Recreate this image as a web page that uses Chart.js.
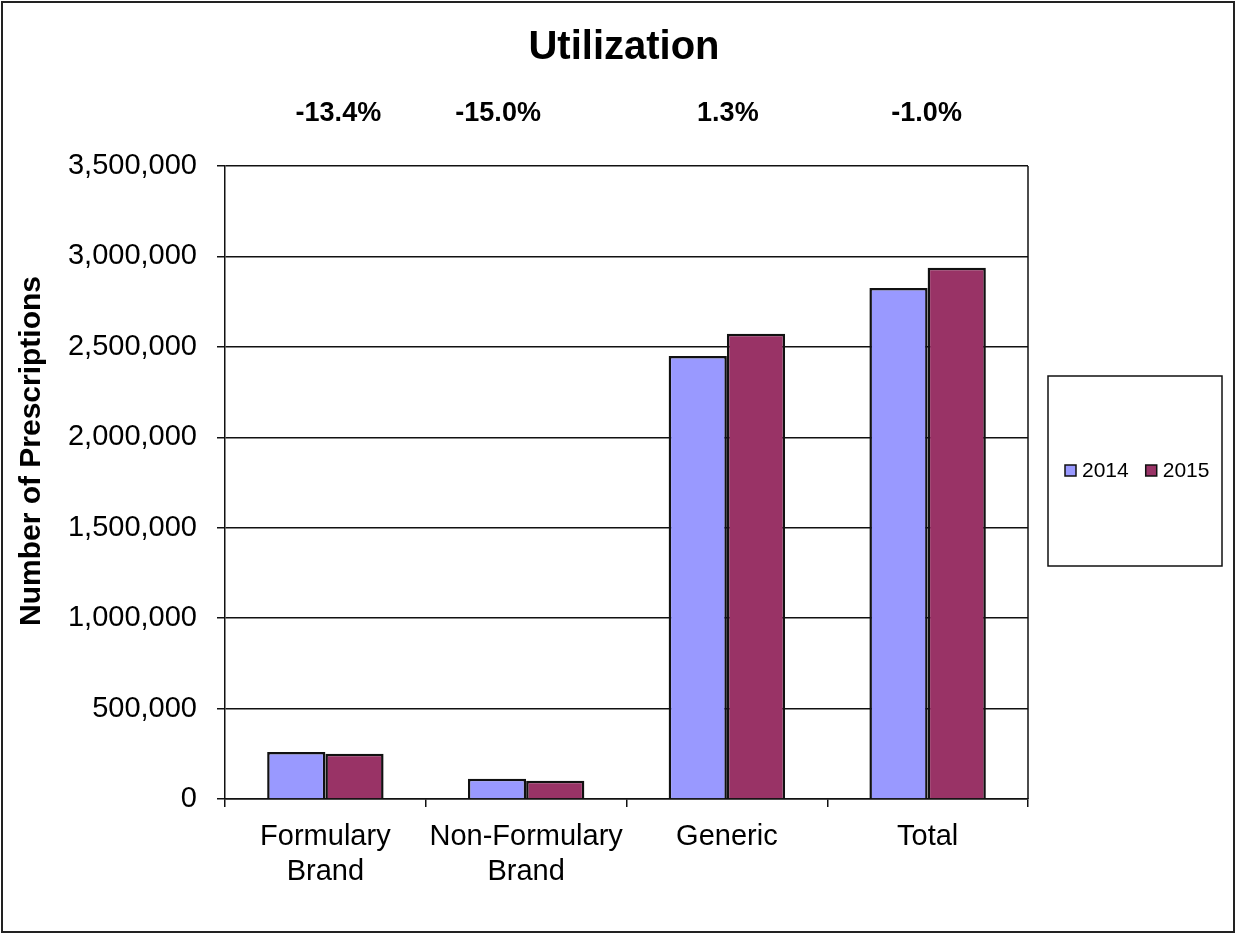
<!DOCTYPE html>
<html>
<head>
<meta charset="utf-8">
<script src="https://cdn.jsdelivr.net/npm/chart.js@4.4.1/dist/chart.umd.min.js"></script>
<style>
  html, body { margin: 0; padding: 0; background: #fff; }
  #wrap { width: 1236px; height: 934px; }
</style>
</head>
<body>
<div id="wrap"><canvas id="util" width="1236" height="934"></canvas></div>
<script>
// ---------- Data ----------
const categories = [["Formulary", "Brand"], ["Non-Formulary", "Brand"], "Generic", "Total"];
const years = ["2014", "2015"];
const rx2014 = [260000, 112000, 2450000, 2825000];
const rx2015 = [250000, 101000, 2573000, 2938000];
const changeLabels = ["-13.4%", "-15.0%", "1.3%", "-1.0%"];
const yTicks = [0, 500000, 1000000, 1500000, 2000000, 2500000, 3000000, 3500000];

// The % labels in the original don't sit exactly over their categories.
const changeNudge = [13, -28, 1, -1];

const COLORS = ["#9999FF", "#993366"];
const FONT = "'Liberation Sans', Arial, sans-serif";

// Frame, title, axis title, % change row, right plot border and the boxed legend.
const decorations = {
  id: "decorations",
  afterDraw(chart) {
    const { ctx, chartArea: a, scales: { x } } = chart;
    ctx.save();

    // outer frame
    ctx.strokeStyle = "#222"; ctx.lineWidth = 2;
    ctx.strokeRect(2, 2, 1232, 930);

    // right edge of the plot area
    ctx.strokeStyle = "#111"; ctx.lineWidth = 1.5;
    ctx.beginPath(); ctx.moveTo(a.right, a.top); ctx.lineTo(a.right, a.bottom); ctx.stroke();

    // title
    ctx.fillStyle = "#000"; ctx.textAlign = "center"; ctx.textBaseline = "middle";
    ctx.font = `bold 40px ${FONT}`;
    ctx.fillText("Utilization", 624, 48);

    // change labels over each category
    ctx.font = `bold 27px ${FONT}`;
    changeLabels.forEach((t, i) => ctx.fillText(t, x.getPixelForValue(i) + changeNudge[i], 114));

    // y axis title (sits above the plot's middle in the original)
    ctx.save();
    ctx.translate(32, 451); ctx.rotate(-Math.PI / 2);
    ctx.font = `bold 30px ${FONT}`;
    ctx.fillText("Number of Prescriptions", 0, 0);
    ctx.restore();

    // legend box
    ctx.strokeStyle = "#111"; ctx.lineWidth = 1.5;
    ctx.strokeRect(1048, 376, 174, 190);
    ctx.font = `21px ${FONT}`; ctx.textAlign = "left";
    let lx = 1065;
    const ly = 471;
    chart.data.datasets.forEach(ds => {
      ctx.fillStyle = ds.backgroundColor;
      ctx.fillRect(lx, ly - 6, 11, 11);
      ctx.strokeStyle = "#111"; ctx.lineWidth = 1.5;
      ctx.strokeRect(lx, ly - 6, 11, 11);
      ctx.fillStyle = "#000";
      ctx.fillText(ds.label, lx + 17, ly);
      lx += 17 + ctx.measureText(ds.label).width + 17;
    });
    ctx.restore();
  }
};

new Chart(document.getElementById("util"), {
  type: "bar",
  data: {
    labels: categories,
    datasets: [
      { label: years[0], data: rx2014, backgroundColor: COLORS[0], borderColor: "#111", borderWidth: 2.5 },
      { label: years[1], data: rx2015, backgroundColor: COLORS[1], borderColor: "#111", borderWidth: 2.5 },
    ]
  },
  options: {
    responsive: false, animation: false,
    layout: { padding: { top: 166, right: 208, left: 8, bottom: 0 } },
    categoryPercentage: 0.58, barPercentage: 1,
    plugins: { legend: { display: false }, title: { display: false }, tooltip: { enabled: false } },
    scales: {
      x: {
        offset: true,
        grid: { offset: true, drawOnChartArea: false, color: "#111", tickLength: 8, lineWidth: 1.5 },
        border: { color: "#111", width: 1.5 },
        ticks: { color: "#000", padding: 13, font: { family: FONT, size: 29 }, maxRotation: 0 },
        afterFit(s) { s.height = 135; }
      },
      y: {
        min: 0, max: 3500000,
        afterBuildTicks(s) { s.ticks = yTicks.map(v => ({ value: v })); },
        grid: { color: "#111", lineWidth: 1.5, tickLength: 8 },
        border: { color: "#111", width: 1.5 },
        ticks: {
          color: "#000", padding: 20, font: { family: FONT, size: 29 },
          callback: v => v.toLocaleString("en-US")
        },
        afterFit(s) { s.width = 217; }
      }
    }
  },
  plugins: [decorations]
});
</script>
</body>
</html>
